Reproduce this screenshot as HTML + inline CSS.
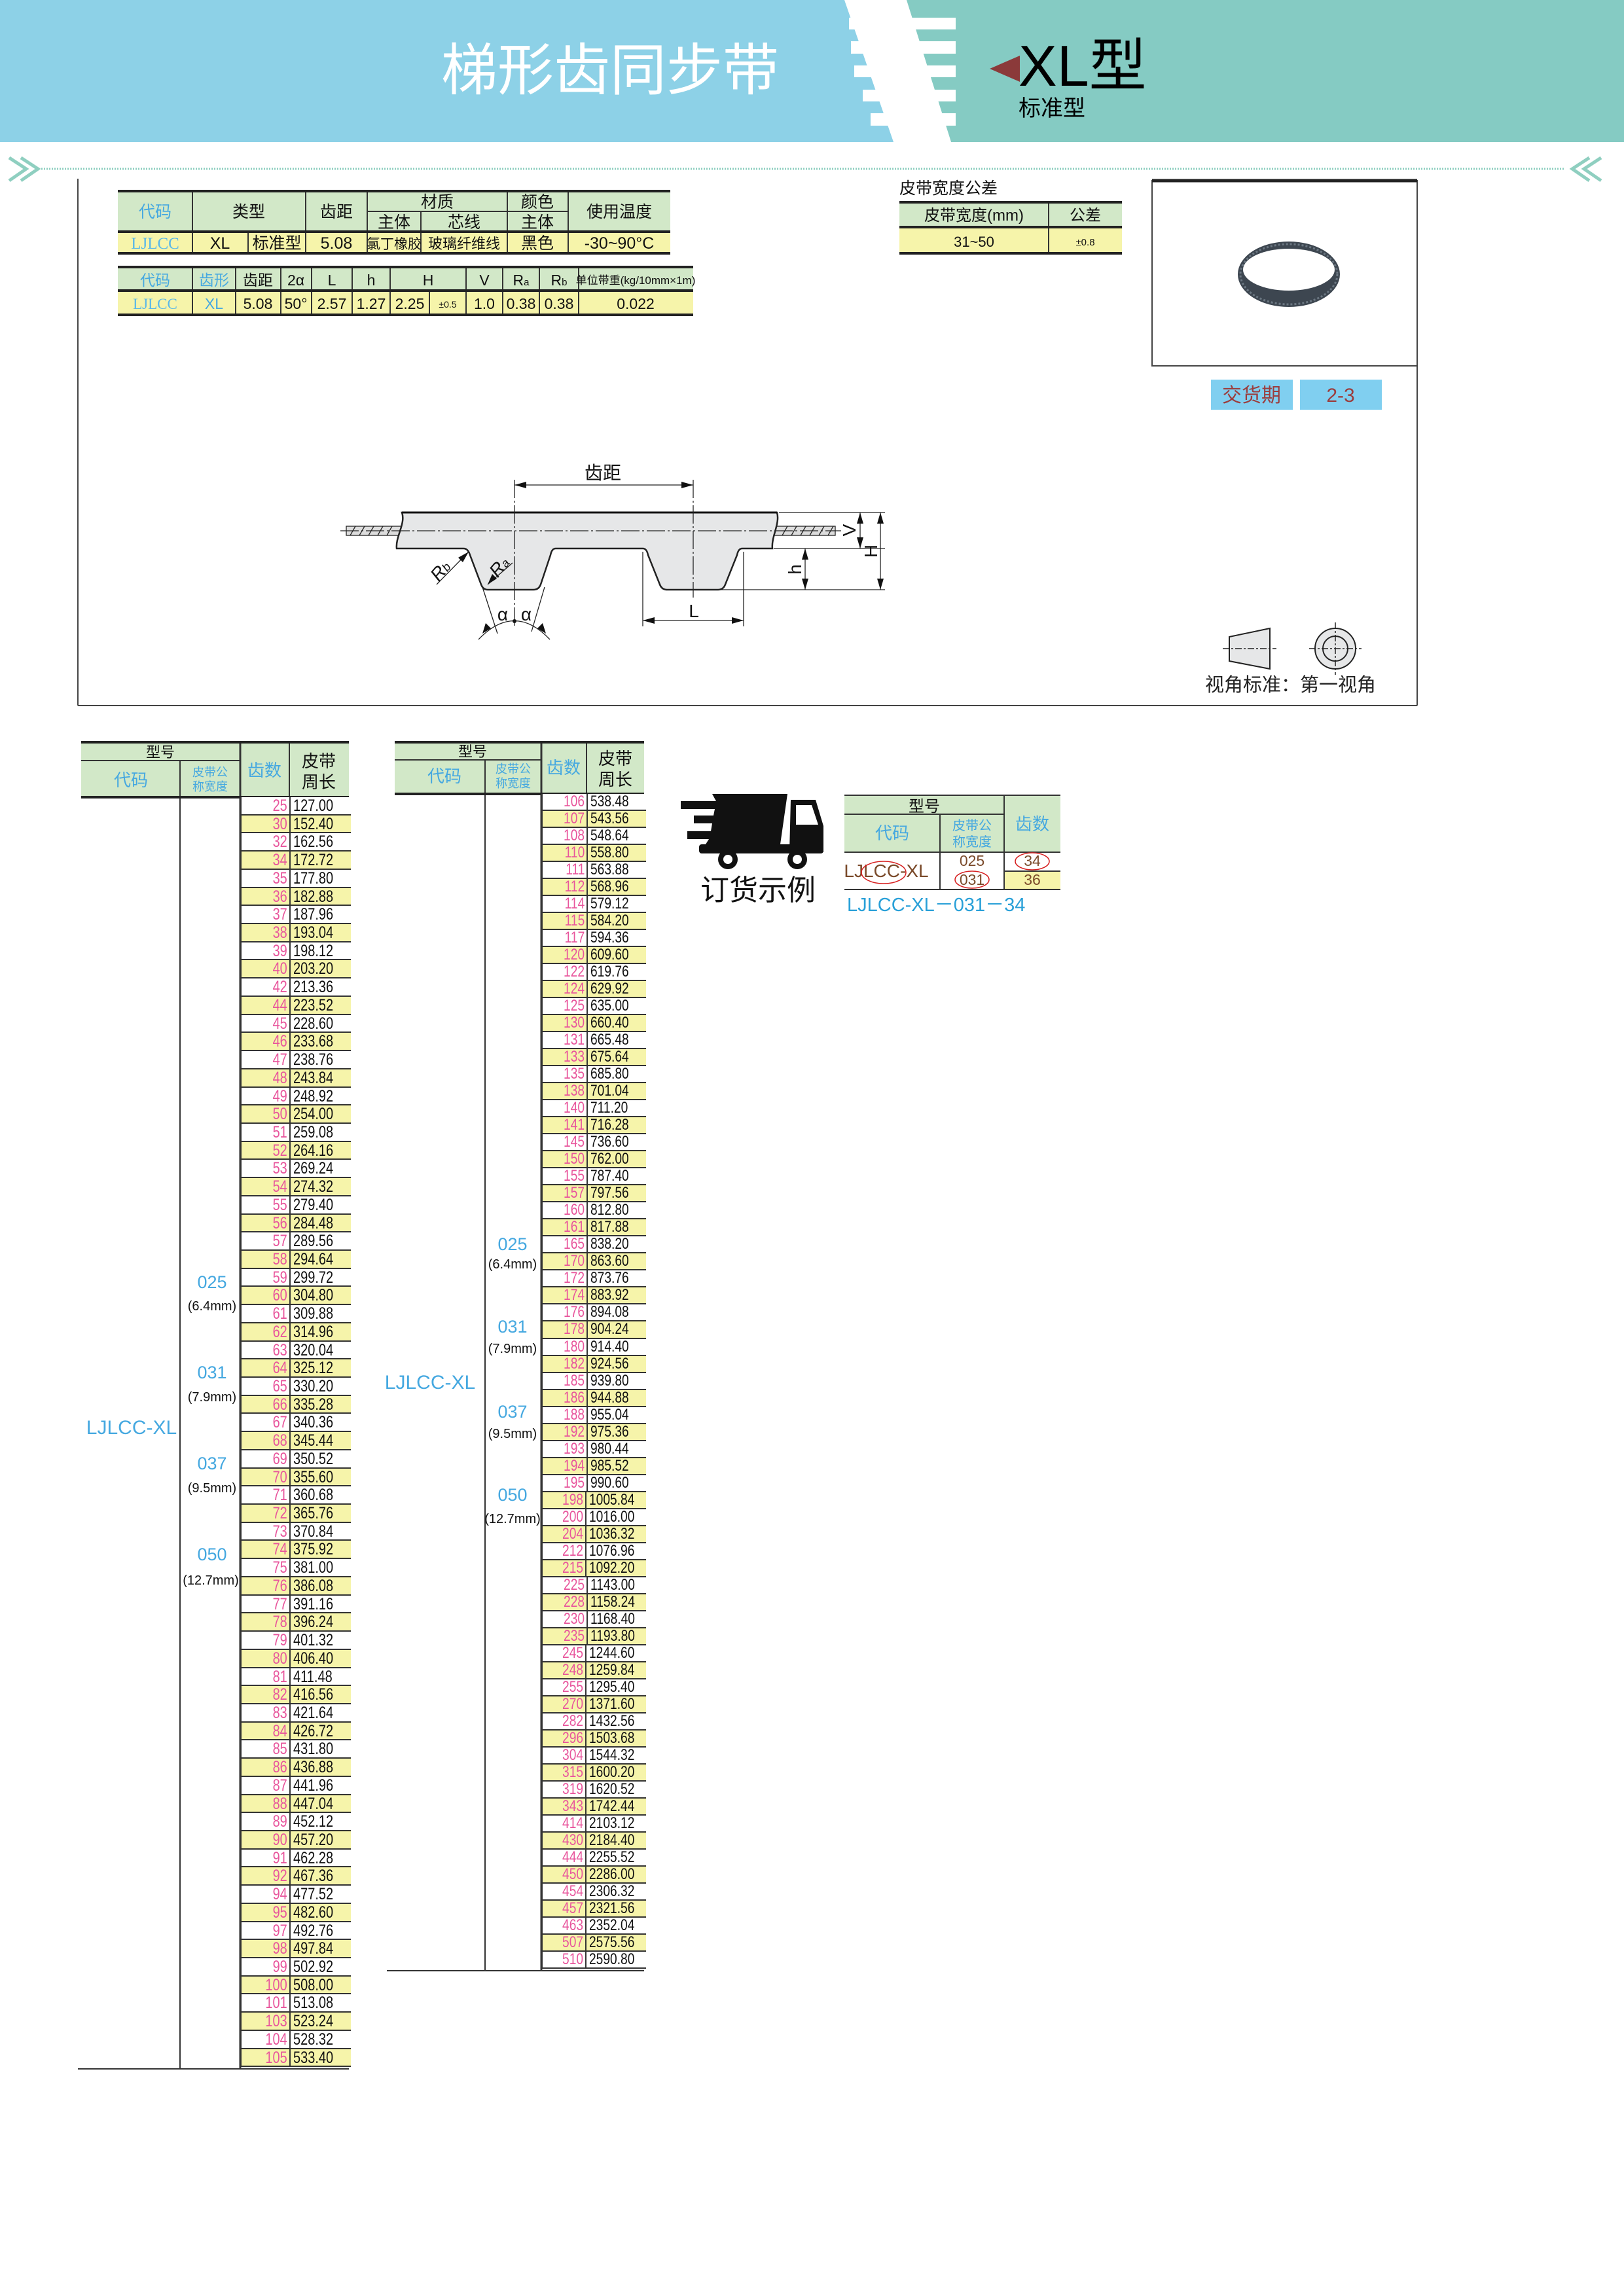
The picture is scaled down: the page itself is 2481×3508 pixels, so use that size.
<!DOCTYPE html>
<html><head><meta charset="utf-8">
<style>
html,body{margin:0;padding:0;background:#fff}
body{width:2481px;height:3508px;position:relative;overflow:hidden;font-family:"Liberation Sans","Noto Sans CJK SC",sans-serif}
svg{position:absolute;left:0;top:0}
.tb{position:absolute;border-left:3px solid #333}
.tb div{height:27.72px;box-sizing:border-box;border-bottom:2px solid #333;display:flex;background:#fff}
.tb.r div{height:26.03px}
.tb div:nth-child(even){background:#f6f4aa}
.tb b{font-weight:normal;color:#e8559c;border-right:2px solid #333;box-sizing:border-box;text-align:right;font-size:25px;line-height:26px;padding-right:3px}
.tb i{font-style:normal;color:#111;font-size:25px;line-height:26px;padding-left:4px}
.tb b span{display:inline-block;transform:scaleX(.8);transform-origin:right}
.tb i span{display:inline-block;transform:scaleX(.8);transform-origin:left}
.tb.l b{width:75px}.tb.l{left:366px;top:1218px;width:167px}
.tb.r b{width:69px}.tb.r{left:826px;top:1213px;width:158px}
.tb.r div b,.tb.r div i{line-height:24px;font-size:24px}
</style></head><body>
<svg width="2481" height="3508" viewBox="0 0 2481 3508" font-family="Liberation Sans, Noto Sans CJK SC, sans-serif">
<!-- header -->
<polygon points="0,0 1290,0 1365,217 0,217" fill="#8dd1e7"/>
<polygon points="1385,0 2481,0 2481,217 1453,217" fill="#85cbc3"/>
<g fill="#fff"><rect x="1297" y="27" width="163" height="18"/><rect x="1300" y="63" width="160" height="19"/><rect x="1305" y="100" width="155" height="18"/><rect x="1318" y="137" width="142" height="18"/><rect x="1330" y="173" width="130" height="19"/></g>
<text x="932" y="137" font-size="86" fill="#fff" text-anchor="middle" font-family="Liberation Sans, Noto Sans CJK SC, sans-serif">梯形齿同步带</text>
<polygon points="1512,105 1558,85 1558,125" fill="#8b3a3a"/>
<text x="1556" y="131" font-size="88" fill="#000">XL型</text>
<text x="1556" y="177" font-size="34" fill="#000">标准型</text>
<!-- dotted separator -->
<line x1="63" y1="258" x2="2389" y2="258" stroke="#8fcfc0" stroke-width="3" stroke-dasharray="2 2"/>
<g fill="none" stroke="#8fcfc0" stroke-width="5"><polyline points="14,241 40,258 14,276"/><polyline points="32,241 58,258 32,276"/><polyline points="2446,241 2420,258 2446,276"/><polyline points="2428,241 2402,258 2428,276"/></g>
<!-- frame -->
<g stroke="#444" stroke-width="2" fill="none"><line x1="119" y1="273" x2="119" y2="1078"/><line x1="119" y1="1078" x2="2165" y2="1078"/><line x1="2165" y1="559" x2="2165" y2="1078"/><rect x="1760" y="276" width="405" height="283"/></g>
<line x1="1760" y1="276" x2="2165" y2="276" stroke="#222" stroke-width="5"/>
<!-- belt photo -->
<ellipse cx="1969" cy="419" rx="78" ry="50" fill="#3d4650"/>
<ellipse cx="1969" cy="412" rx="70" ry="32" fill="#fff"/>
<ellipse cx="1969" cy="419" rx="74" ry="46" fill="none" stroke="#6b7782" stroke-width="3" stroke-dasharray="3 3"/>
<!-- table 1 -->
<rect x="180" y="292" width="844" height="62" fill="#d2e8c8"/><rect x="180" y="354" width="844" height="33" fill="#f6f4aa"/>
<g stroke="#333" stroke-width="2"><line x1="294" y1="292" x2="294" y2="387"/><line x1="379" y1="354" x2="379" y2="387"/><line x1="467" y1="292" x2="467" y2="387"/><line x1="561" y1="292" x2="561" y2="387"/><line x1="643" y1="323" x2="643" y2="387"/><line x1="775" y1="292" x2="775" y2="387"/><line x1="868" y1="292" x2="868" y2="387"/><line x1="561" y1="323" x2="868" y2="323"/></g>
<g stroke="#222" stroke-width="4"><line x1="180" y1="292" x2="1024" y2="292"/><line x1="180" y1="354" x2="1024" y2="354"/><line x1="180" y1="387" x2="1024" y2="387"/></g>
<g font-size="25" text-anchor="middle" fill="#111"><text x="237" y="332" fill="#45a8e0">代码</text><text x="380" y="332">类型</text><text x="514" y="332">齿距</text><text x="668" y="317">材质</text><text x="602" y="348">主体</text><text x="709" y="348">芯线</text><text x="821" y="317">颜色</text><text x="821" y="348">主体</text><text x="946" y="332">使用温度</text>
<text x="237" y="380" fill="#5ab8e8" font-family="Liberation Serif, serif">LJLCC</text><text x="336" y="380">XL</text><text x="423" y="380">标准型</text><text x="514" y="380">5.08</text><text x="602" y="380" font-size="21">氯丁橡胶</text><text x="709" y="380" font-size="22">玻璃纤维线</text><text x="821" y="380">黑色</text><text x="946" y="380">-30~90°C</text></g>
<!-- table 2 -->
<rect x="180" y="408" width="879" height="36" fill="#d2e8c8"/><rect x="180" y="444" width="879" height="37" fill="#f6f4aa"/>
<g stroke="#333" stroke-width="2"><line x1="294" y1="408" x2="294" y2="481"/><line x1="360" y1="408" x2="360" y2="481"/><line x1="429" y1="408" x2="429" y2="481"/><line x1="476" y1="408" x2="476" y2="481"/><line x1="538" y1="408" x2="538" y2="481"/><line x1="596" y1="408" x2="596" y2="481"/><line x1="656" y1="444" x2="656" y2="481"/><line x1="712" y1="408" x2="712" y2="481"/><line x1="768" y1="408" x2="768" y2="481"/><line x1="824" y1="408" x2="824" y2="481"/><line x1="884" y1="408" x2="884" y2="481"/></g>
<g stroke="#222" stroke-width="4"><line x1="180" y1="408" x2="1059" y2="408"/><line x1="180" y1="444" x2="1059" y2="444"/><line x1="180" y1="481" x2="1059" y2="481"/></g>
<g font-size="23" text-anchor="middle" fill="#111"><text x="237" y="436" fill="#45a8e0">代码</text><text x="327" y="436" fill="#45a8e0">齿形</text><text x="394" y="436">齿距</text><text x="452" y="436">2α</text><text x="507" y="436">L</text><text x="567" y="436">h</text><text x="654" y="436">H</text><text x="740" y="436">V</text><text x="796" y="436">R<tspan font-size="15">a</tspan></text><text x="854" y="436">R<tspan font-size="15">b</tspan></text><text x="971" y="434" font-size="17">单位带重(kg/10mm×1m)</text>
<text x="237" y="472" fill="#5ab8e8" font-family="Liberation Serif, serif">LJLCC</text><text x="327" y="472" fill="#45a8e0">XL</text><text x="394" y="472">5.08</text><text x="452" y="472">50°</text><text x="507" y="472">2.57</text><text x="567" y="472">1.27</text><text x="626" y="472">2.25</text><text x="684" y="470" font-size="14">±0.5</text><text x="740" y="472">1.0</text><text x="796" y="472">0.38</text><text x="854" y="472">0.38</text><text x="971" y="472">0.022</text></g>
<!-- tolerance table -->
<text x="1374" y="296" font-size="25" fill="#111">皮带宽度公差</text>
<rect x="1374" y="309" width="340" height="38" fill="#d2e8c8"/><rect x="1374" y="347" width="340" height="40" fill="#f6f4aa"/>
<line x1="1602" y1="309" x2="1602" y2="387" stroke="#333" stroke-width="2"/>
<g stroke="#222" stroke-width="4"><line x1="1374" y1="309" x2="1714" y2="309"/><line x1="1374" y1="347" x2="1714" y2="347"/><line x1="1374" y1="387" x2="1714" y2="387"/></g>
<g font-size="24" text-anchor="middle" fill="#111"><text x="1488" y="337">皮带宽度(mm)</text><text x="1658" y="337">公差</text><text x="1488" y="377" font-size="22">31~50</text><text x="1658" y="375" font-size="15">±0.8</text></g>
<!-- delivery -->
<rect x="1850" y="580" width="125" height="46" fill="#80cff0"/><rect x="1986" y="580" width="125" height="46" fill="#80cff0"/>
<text x="1912" y="614" font-size="30" fill="#9b3d3d" text-anchor="middle">交货期</text><text x="2048" y="614" font-size="30" fill="#9b3d3d" text-anchor="middle">2-3</text>
<!-- view icons -->
<polygon points="1878,973 1940,960 1940,1022 1878,1010" fill="#e6e7e8" stroke="#222" stroke-width="2"/>
<line x1="1868" y1="991" x2="1950" y2="991" stroke="#222" stroke-width="1.5" stroke-dasharray="10 3 3 3"/>
<circle cx="2040" cy="991" r="31" fill="#e6e7e8" stroke="#222" stroke-width="2"/><circle cx="2040" cy="991" r="19" fill="none" stroke="#222" stroke-width="2"/>
<line x1="2000" y1="991" x2="2080" y2="991" stroke="#222" stroke-width="1.5" stroke-dasharray="10 3 3 3"/><line x1="2040" y1="951" x2="2040" y2="1031" stroke="#222" stroke-width="1.5" stroke-dasharray="10 3 3 3"/>
<text x="1841" y="1056" font-size="29" fill="#222">视角标准：第一视角</text>
<!-- belt diagram -->
<g stroke="#222" stroke-width="1.3" fill="none">
<rect x="529" y="804" width="84" height="14" fill="#ddd"/><rect x="1183" y="804" width="93" height="14" fill="#ddd"/>
<path d="M535,818l8,-14M549,818l8,-14M563,818l8,-14M577,818l8,-14M591,818l8,-14M1195,818l8,-14M1209,818l8,-14M1223,818l8,-14M1237,818l8,-14M1251,818l8,-14M1265,818l8,-14"/>
</g>
<path d="M614,783 L1187,783 C1192,800 1178,820 1180,838 L1134,838 Q1128,838 1126,848 L1108,893 Q1105,901 1097,901 L1019,901 Q1011,901 1008,893 L990,848 Q988,838 982,838 L849,838 Q843,838 841,848 L826,893 Q823,901 815,901 L745,901 Q738,901 735,893 L718,848 Q715,838 708,838 L606,838 C604,820 620,800 614,783 Z" fill="#e6e7e8" stroke="#222" stroke-width="2.5"/>
<line x1="614" y1="783" x2="1187" y2="783" stroke="#111" stroke-width="3"/>
<g stroke="#222" stroke-width="1.3" fill="none">
<line x1="520" y1="811" x2="1285" y2="811" stroke-dasharray="28 4 3 4"/>
<line x1="786" y1="733" x2="786" y2="960" stroke-dasharray="28 4 3 4"/><line x1="1059" y1="733" x2="1059" y2="913" stroke-dasharray="28 4 3 4"/>
<line x1="786" y1="741" x2="1059" y2="741"/>
<line x1="1190" y1="783" x2="1352" y2="783"/><line x1="1182" y1="838" x2="1352" y2="838"/><line x1="1100" y1="901" x2="1352" y2="901"/>
<line x1="1314" y1="783" x2="1314" y2="838"/><line x1="1345" y1="783" x2="1345" y2="901"/><line x1="1230" y1="838" x2="1230" y2="901"/>
<line x1="982" y1="843" x2="982" y2="957"/><line x1="1136" y1="843" x2="1136" y2="957"/><line x1="982" y1="948" x2="1136" y2="948"/>
<line x1="737" y1="897" x2="760" y2="968"/><line x1="832" y1="897" x2="812" y2="965"/>
<path d="M731,977 Q786,920 840,977"/>
<line x1="667" y1="893" x2="716" y2="843"/><line x1="783" y1="860" x2="745" y2="893"/>
</g>
<g fill="#111">
<polygon points="786,741 804,736 804,746"/><polygon points="1059,741 1041,736 1041,746"/>
<polygon points="1314,783 1309,800 1319,800"/><polygon points="1314,838 1309,821 1319,821"/>
<polygon points="1345,783 1340,800 1350,800"/><polygon points="1345,901 1340,884 1350,884"/>
<polygon points="1230,838 1225,855 1235,855"/><polygon points="1230,901 1225,884 1235,884"/>
<polygon points="982,948 1000,943 1000,953"/><polygon points="1136,948 1118,943 1118,953"/>
<polygon points="716,843 700,852 707,859"/><polygon points="745,893 752,877 759,884"/>
<polygon points="737,968 742,952 750,960"/><polygon points="834,968 829,952 821,960"/>
<circle cx="786" cy="949" r="3"/>
</g>
<g font-size="28" fill="#111" text-anchor="middle"><text x="921" y="732">齿距</text><text x="1060" y="943">L</text><text x="768" y="948">α</text><text x="804" y="948">α</text>
<text transform="translate(1307,810) rotate(-90)" font-size="28">V</text><text transform="translate(1340,842) rotate(-90)">H</text><text transform="translate(1224,870) rotate(-90)">h</text>
<text transform="translate(680,878) rotate(-50)" font-style="italic">R<tspan font-size="18">b</tspan></text><text transform="translate(770,872) rotate(-50)" font-style="italic">R<tspan font-size="18">a</tspan></text></g>
<!-- left long table header -->
<rect x="124" y="1134" width="409" height="84" fill="#d2e8c8"/>
<g stroke="#333" stroke-width="2"><line x1="124" y1="1162" x2="367" y2="1162"/><line x1="275" y1="1162" x2="275" y2="3161"/><line x1="367" y1="1134" x2="367" y2="3161" stroke-width="3"/><line x1="442" y1="1134" x2="442" y2="1218"/><line x1="119" y1="3161" x2="533" y2="3161"/></g>
<g stroke="#222" stroke-width="4"><line x1="124" y1="1134" x2="533" y2="1134"/><line x1="124" y1="1218" x2="533" y2="1218"/></g>
<g text-anchor="middle" fill="#45a8e0"><text x="245" y="1157" font-size="22" fill="#111">型号</text><text x="200" y="1201" font-size="26">代码</text><text x="321" y="1186" font-size="18">皮带公</text><text x="321" y="1208" font-size="18">称宽度</text><text x="404" y="1186" font-size="26">齿数</text><text x="487" y="1172" font-size="26" fill="#111">皮带</text><text x="487" y="1204" font-size="26" fill="#111">周长</text>
<text x="201" y="2191" font-size="30">LJLCC-XL</text>
<text x="324" y="1968" font-size="27">025</text><text x="324" y="2002" font-size="20" fill="#111">(6.4mm)</text>
<text x="324" y="2106" font-size="27">031</text><text x="324" y="2141" font-size="20" fill="#111">(7.9mm)</text>
<text x="324" y="2245" font-size="27">037</text><text x="324" y="2280" font-size="20" fill="#111">(9.5mm)</text>
<text x="324" y="2384" font-size="27">050</text><text x="322" y="2421" font-size="20" fill="#111">(12.7mm)</text></g>
<!-- right long table header -->
<rect x="603" y="1134" width="381" height="79" fill="#d2e8c8"/>
<g stroke="#333" stroke-width="2"><line x1="603" y1="1161" x2="827" y2="1161"/><line x1="741" y1="1161" x2="741" y2="3011"/><line x1="827" y1="1134" x2="827" y2="3011" stroke-width="3"/><line x1="896" y1="1134" x2="896" y2="1213"/><line x1="591" y1="3011" x2="984" y2="3011"/></g>
<g stroke="#222" stroke-width="4"><line x1="603" y1="1134" x2="984" y2="1134"/><line x1="603" y1="1213" x2="984" y2="1213"/></g>
<g text-anchor="middle" fill="#45a8e0"><text x="722" y="1156" font-size="22" fill="#111">型号</text><text x="679" y="1195" font-size="26">代码</text><text x="784" y="1181" font-size="18">皮带公</text><text x="784" y="1203" font-size="18">称宽度</text><text x="861" y="1182" font-size="26">齿数</text><text x="940" y="1168" font-size="26" fill="#111">皮带</text><text x="940" y="1200" font-size="26" fill="#111">周长</text>
<text x="657" y="2122" font-size="30">LJLCC-XL</text>
<text x="783" y="1910" font-size="27">025</text><text x="783" y="1938" font-size="20" fill="#111">(6.4mm)</text>
<text x="783" y="2036" font-size="27">031</text><text x="783" y="2067" font-size="20" fill="#111">(7.9mm)</text>
<text x="783" y="2166" font-size="27">037</text><text x="783" y="2197" font-size="20" fill="#111">(9.5mm)</text>
<text x="783" y="2293" font-size="27">050</text><text x="783" y="2327" font-size="20" fill="#111">(12.7mm)</text></g>
<!-- truck -->
<g fill="#111">
<polygon points="1088,1213 1203,1213 1192,1290 1078,1290 1083,1282 1050,1282 1050,1270 1086,1270 1088,1258 1060,1258 1060,1246 1090,1246 1092,1236 1040,1236 1040,1224 1094,1224"/>
<polygon points="1208,1222 1246,1222 1258,1262 1258,1302 1206,1302"/>
<rect x="1068" y="1290" width="190" height="14" rx="4"/>
<circle cx="1112" cy="1313" r="15"/><circle cx="1218" cy="1313" r="15"/>
</g>
<polygon points="1216,1230 1240,1230 1250,1260 1216,1260" fill="#fff"/>
<circle cx="1112" cy="1313" r="7" fill="#fff"/><circle cx="1218" cy="1313" r="7" fill="#fff"/>
<text x="1158" y="1375" font-size="44" fill="#111" text-anchor="middle">订货示例</text>
<!-- order table -->
<rect x="1290" y="1215" width="330" height="87" fill="#d2e8c8"/><rect x="1534" y="1331" width="86" height="28" fill="#f6f4aa"/>
<g stroke="#333" stroke-width="2"><line x1="1290" y1="1215" x2="1620" y2="1215"/><line x1="1290" y1="1244" x2="1534" y2="1244"/><line x1="1290" y1="1302" x2="1620" y2="1302"/><line x1="1534" y1="1331" x2="1620" y2="1331"/><line x1="1290" y1="1359" x2="1620" y2="1359"/><line x1="1436" y1="1244" x2="1436" y2="1359"/><line x1="1534" y1="1215" x2="1534" y2="1359"/></g>
<g text-anchor="middle"><text x="1412" y="1240" font-size="24" fill="#111">型号</text><text x="1363" y="1282" font-size="26" fill="#45a8e0">代码</text><text x="1485" y="1268" font-size="20" fill="#45a8e0">皮带公</text><text x="1485" y="1293" font-size="20" fill="#45a8e0">称宽度</text><text x="1577" y="1268" font-size="26" fill="#45a8e0">齿数</text>
<text x="1354" y="1340" font-size="28" fill="#7a4a2a">LJLCC-XL</text><text x="1485" y="1323" font-size="23" fill="#7a4a2a">025</text><text x="1485" y="1352" font-size="23" fill="#7a4a2a">031</text><text x="1577" y="1323" font-size="23" fill="#7a4a2a">34</text><text x="1577" y="1352" font-size="23" fill="#7a4a2a">36</text></g>
<g fill="none" stroke="#d62020" stroke-width="1.5"><ellipse cx="1350" cy="1333" rx="34" ry="17"/><ellipse cx="1485" cy="1344" rx="26" ry="13"/><ellipse cx="1577" cy="1316" rx="26" ry="13"/></g>
<text x="1294" y="1392" font-size="29" fill="#29a0d8">LJLCC-XL－031－34</text>
</svg>
<div class="tb l">
<div><b><span>25</span></b><i><span>127.00</span></i></div><div><b><span>30</span></b><i><span>152.40</span></i></div><div><b><span>32</span></b><i><span>162.56</span></i></div><div><b><span>34</span></b><i><span>172.72</span></i></div><div><b><span>35</span></b><i><span>177.80</span></i></div><div><b><span>36</span></b><i><span>182.88</span></i></div><div><b><span>37</span></b><i><span>187.96</span></i></div><div><b><span>38</span></b><i><span>193.04</span></i></div><div><b><span>39</span></b><i><span>198.12</span></i></div><div><b><span>40</span></b><i><span>203.20</span></i></div>
<div><b><span>42</span></b><i><span>213.36</span></i></div><div><b><span>44</span></b><i><span>223.52</span></i></div><div><b><span>45</span></b><i><span>228.60</span></i></div><div><b><span>46</span></b><i><span>233.68</span></i></div><div><b><span>47</span></b><i><span>238.76</span></i></div><div><b><span>48</span></b><i><span>243.84</span></i></div><div><b><span>49</span></b><i><span>248.92</span></i></div><div><b><span>50</span></b><i><span>254.00</span></i></div><div><b><span>51</span></b><i><span>259.08</span></i></div><div><b><span>52</span></b><i><span>264.16</span></i></div>
<div><b><span>53</span></b><i><span>269.24</span></i></div><div><b><span>54</span></b><i><span>274.32</span></i></div><div><b><span>55</span></b><i><span>279.40</span></i></div><div><b><span>56</span></b><i><span>284.48</span></i></div><div><b><span>57</span></b><i><span>289.56</span></i></div><div><b><span>58</span></b><i><span>294.64</span></i></div><div><b><span>59</span></b><i><span>299.72</span></i></div><div><b><span>60</span></b><i><span>304.80</span></i></div><div><b><span>61</span></b><i><span>309.88</span></i></div><div><b><span>62</span></b><i><span>314.96</span></i></div>
<div><b><span>63</span></b><i><span>320.04</span></i></div><div><b><span>64</span></b><i><span>325.12</span></i></div><div><b><span>65</span></b><i><span>330.20</span></i></div><div><b><span>66</span></b><i><span>335.28</span></i></div><div><b><span>67</span></b><i><span>340.36</span></i></div><div><b><span>68</span></b><i><span>345.44</span></i></div><div><b><span>69</span></b><i><span>350.52</span></i></div><div><b><span>70</span></b><i><span>355.60</span></i></div><div><b><span>71</span></b><i><span>360.68</span></i></div><div><b><span>72</span></b><i><span>365.76</span></i></div>
<div><b><span>73</span></b><i><span>370.84</span></i></div><div><b><span>74</span></b><i><span>375.92</span></i></div><div><b><span>75</span></b><i><span>381.00</span></i></div><div><b><span>76</span></b><i><span>386.08</span></i></div><div><b><span>77</span></b><i><span>391.16</span></i></div><div><b><span>78</span></b><i><span>396.24</span></i></div><div><b><span>79</span></b><i><span>401.32</span></i></div><div><b><span>80</span></b><i><span>406.40</span></i></div><div><b><span>81</span></b><i><span>411.48</span></i></div><div><b><span>82</span></b><i><span>416.56</span></i></div>
<div><b><span>83</span></b><i><span>421.64</span></i></div><div><b><span>84</span></b><i><span>426.72</span></i></div><div><b><span>85</span></b><i><span>431.80</span></i></div><div><b><span>86</span></b><i><span>436.88</span></i></div><div><b><span>87</span></b><i><span>441.96</span></i></div><div><b><span>88</span></b><i><span>447.04</span></i></div><div><b><span>89</span></b><i><span>452.12</span></i></div><div><b><span>90</span></b><i><span>457.20</span></i></div><div><b><span>91</span></b><i><span>462.28</span></i></div><div><b><span>92</span></b><i><span>467.36</span></i></div>
<div><b><span>94</span></b><i><span>477.52</span></i></div><div><b><span>95</span></b><i><span>482.60</span></i></div><div><b><span>97</span></b><i><span>492.76</span></i></div><div><b><span>98</span></b><i><span>497.84</span></i></div><div><b><span>99</span></b><i><span>502.92</span></i></div><div><b><span>100</span></b><i><span>508.00</span></i></div><div><b><span>101</span></b><i><span>513.08</span></i></div><div><b><span>103</span></b><i><span>523.24</span></i></div><div><b><span>104</span></b><i><span>528.32</span></i></div><div><b><span>105</span></b><i><span>533.40</span></i></div>
</div>
<div class="tb r">
<div><b><span>106</span></b><i><span>538.48</span></i></div><div><b><span>107</span></b><i><span>543.56</span></i></div><div><b><span>108</span></b><i><span>548.64</span></i></div><div><b><span>110</span></b><i><span>558.80</span></i></div><div><b><span>111</span></b><i><span>563.88</span></i></div><div><b><span>112</span></b><i><span>568.96</span></i></div><div><b><span>114</span></b><i><span>579.12</span></i></div><div><b><span>115</span></b><i><span>584.20</span></i></div><div><b><span>117</span></b><i><span>594.36</span></i></div><div><b><span>120</span></b><i><span>609.60</span></i></div>
<div><b><span>122</span></b><i><span>619.76</span></i></div><div><b><span>124</span></b><i><span>629.92</span></i></div><div><b><span>125</span></b><i><span>635.00</span></i></div><div><b><span>130</span></b><i><span>660.40</span></i></div><div><b><span>131</span></b><i><span>665.48</span></i></div><div><b><span>133</span></b><i><span>675.64</span></i></div><div><b><span>135</span></b><i><span>685.80</span></i></div><div><b><span>138</span></b><i><span>701.04</span></i></div><div><b><span>140</span></b><i><span>711.20</span></i></div><div><b><span>141</span></b><i><span>716.28</span></i></div>
<div><b><span>145</span></b><i><span>736.60</span></i></div><div><b><span>150</span></b><i><span>762.00</span></i></div><div><b><span>155</span></b><i><span>787.40</span></i></div><div><b><span>157</span></b><i><span>797.56</span></i></div><div><b><span>160</span></b><i><span>812.80</span></i></div><div><b><span>161</span></b><i><span>817.88</span></i></div><div><b><span>165</span></b><i><span>838.20</span></i></div><div><b><span>170</span></b><i><span>863.60</span></i></div><div><b><span>172</span></b><i><span>873.76</span></i></div><div><b><span>174</span></b><i><span>883.92</span></i></div>
<div><b><span>176</span></b><i><span>894.08</span></i></div><div><b><span>178</span></b><i><span>904.24</span></i></div><div><b><span>180</span></b><i><span>914.40</span></i></div><div><b><span>182</span></b><i><span>924.56</span></i></div><div><b><span>185</span></b><i><span>939.80</span></i></div><div><b><span>186</span></b><i><span>944.88</span></i></div><div><b><span>188</span></b><i><span>955.04</span></i></div><div><b><span>192</span></b><i><span>975.36</span></i></div><div><b><span>193</span></b><i><span>980.44</span></i></div><div><b><span>194</span></b><i><span>985.52</span></i></div>
<div><b><span>195</span></b><i><span>990.60</span></i></div><div><b><span>198</span></b><i><span>1005.84</span></i></div><div><b><span>200</span></b><i><span>1016.00</span></i></div><div><b><span>204</span></b><i><span>1036.32</span></i></div><div><b><span>212</span></b><i><span>1076.96</span></i></div><div><b><span>215</span></b><i><span>1092.20</span></i></div><div><b><span>225</span></b><i><span>1143.00</span></i></div><div><b><span>228</span></b><i><span>1158.24</span></i></div><div><b><span>230</span></b><i><span>1168.40</span></i></div><div><b><span>235</span></b><i><span>1193.80</span></i></div>
<div><b><span>245</span></b><i><span>1244.60</span></i></div><div><b><span>248</span></b><i><span>1259.84</span></i></div><div><b><span>255</span></b><i><span>1295.40</span></i></div><div><b><span>270</span></b><i><span>1371.60</span></i></div><div><b><span>282</span></b><i><span>1432.56</span></i></div><div><b><span>296</span></b><i><span>1503.68</span></i></div><div><b><span>304</span></b><i><span>1544.32</span></i></div><div><b><span>315</span></b><i><span>1600.20</span></i></div><div><b><span>319</span></b><i><span>1620.52</span></i></div><div><b><span>343</span></b><i><span>1742.44</span></i></div>
<div><b><span>414</span></b><i><span>2103.12</span></i></div><div><b><span>430</span></b><i><span>2184.40</span></i></div><div><b><span>444</span></b><i><span>2255.52</span></i></div><div><b><span>450</span></b><i><span>2286.00</span></i></div><div><b><span>454</span></b><i><span>2306.32</span></i></div><div><b><span>457</span></b><i><span>2321.56</span></i></div><div><b><span>463</span></b><i><span>2352.04</span></i></div><div><b><span>507</span></b><i><span>2575.56</span></i></div><div><b><span>510</span></b><i><span>2590.80</span></i></div>
</div>
</body></html>
